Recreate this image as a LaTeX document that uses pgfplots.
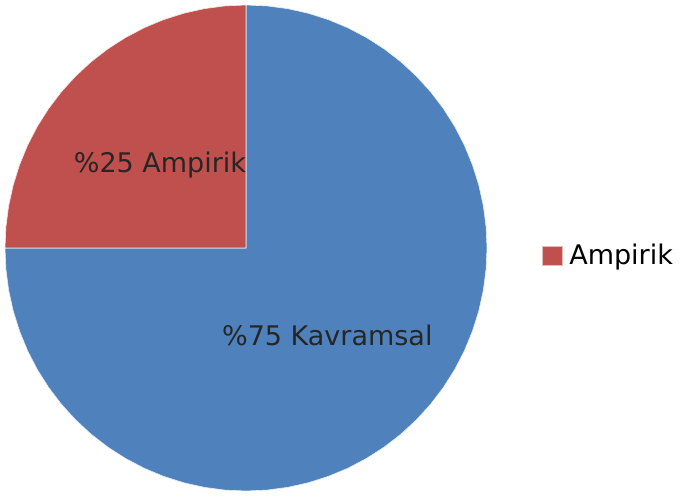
\documentclass[border=0pt]{standalone}
\usepackage{fontspec}
\setmainfont{DejaVu Sans}
\usepackage{pgfplots}
\pgfplotsset{compat=1.18}
\usepgfplotslibrary{polar}
\definecolor{pieblue}{HTML}{4F81BD}
\definecolor{piered}{HTML}{C0504D}
\begin{document}
\begin{tikzpicture}
\useasboundingbox (0,0) rectangle (340.5pt,249pt);
\begin{polaraxis}[
  at={(123pt,125pt)}, anchor=center,
  scale only axis, width=241pt, height=243pt,
  hide axis, ymin=0, ymax=1, clip=false,
  legend style={draw=none, fill=none, at={(1.114,0.484)}, anchor=west,
    font=\fontsize{13.5}{15}\selectfont, inner sep=0pt,
    /tikz/every odd column/.append style={column sep=1.5pt}},
  legend cell align=left,
]
% Kavramsal 75% : from 180 deg round to 450 deg
\addplot[fill=pieblue, draw=white!85!pieblue, line width=0.3pt, forget plot] coordinates {
(0,0) (180,1) (185,1) (190,1) (195,1) (200,1) (205,1) (210,1) (215,1) (220,1) (225,1)
(230,1) (235,1) (240,1) (245,1) (250,1) (255,1) (260,1) (265,1) (270,1) (275,1)
(280,1) (285,1) (290,1) (295,1) (300,1) (305,1) (310,1) (315,1) (320,1) (325,1)
(330,1) (335,1) (340,1) (345,1) (350,1) (355,1) (360,1) (365,1) (370,1) (375,1)
(380,1) (385,1) (390,1) (395,1) (400,1) (405,1) (410,1) (415,1) (420,1) (425,1)
(430,1) (435,1) (440,1) (445,1) (450,1) (0,0)} --cycle;
% Ampirik 25% : from 90 to 180 deg
\addplot[fill=piered, draw=white!85!piered, line width=0.3pt,
  legend image code/.code={\fill[piered, draw=white!60!piered] (0cm,-0.17cm) rectangle (0.34cm,0.17cm);}] coordinates {
(0,0) (90,1) (95,1) (100,1) (105,1) (110,1) (115,1) (120,1) (125,1) (130,1) (135,1)
(140,1) (145,1) (150,1) (155,1) (160,1) (165,1) (170,1) (175,1) (180,1) (0,0)} --cycle;
\addlegendentry{Ampirik}
\node[font=\fontsize{13.5}{15}\selectfont, text=black!85] at (axis cs:136.1,0.495) {\%25 Ampirik};
\node[font=\fontsize{13.5}{15}\selectfont, text=black!85] at (axis cs:-46.7,0.492) {\%75 Kavramsal};
\end{polaraxis}
\end{tikzpicture}
\end{document}
